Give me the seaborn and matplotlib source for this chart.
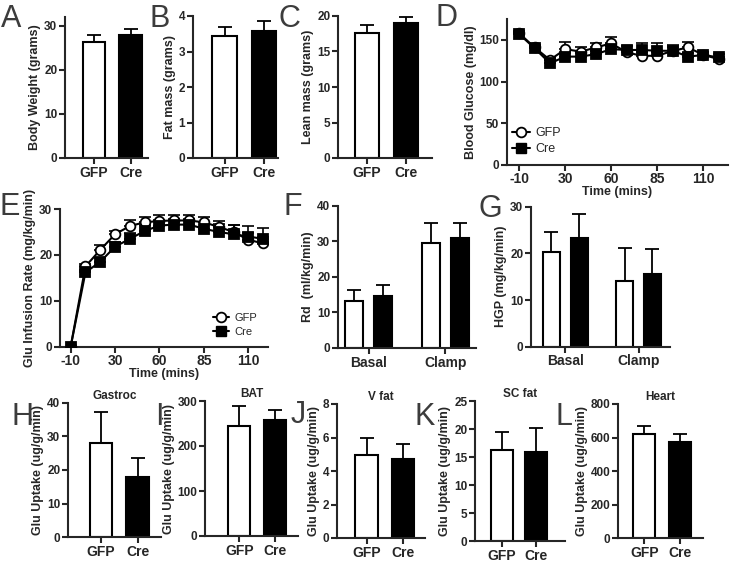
import numpy as np
import pandas as pd
import matplotlib
matplotlib.use('Agg')
import matplotlib.pyplot as plt
import seaborn as sns
from matplotlib.lines import Line2D

# ---- data ----
groups = ['GFP', 'Cre']
body_weight = [26.3, 27.9]
body_weight_err = [1.6, 1.3]
fat_mass = [3.45, 3.57]
fat_mass_err = [0.25, 0.28]
lean_mass = [17.6, 19.0]
lean_mass_err = [1.1, 0.9]

time_idx = [0, 1, 2, 3, 4, 5, 6, 7, 8, 9, 10, 11, 12, 13]
time_tick_idx = [0, 3, 6, 9, 12]
time_labels = ['-10', '30', '60', '85', '110']

glucose_gfp = [158, 141, 126, 139, 136, 141, 146, 135, 131, 131, 137, 141, 132, 127]
glucose_gfp_err = [3, 3, 3, 9, 6, 5, 8, 3, 4, 4, 5, 7, 3, 3]
glucose_cre = [157, 140, 122, 130, 130, 133, 139, 138, 138, 137, 137, 130, 132, 129]
glucose_cre_err = [3, 3, 4, 4, 4, 4, 4, 5, 8, 9, 7, 4, 4, 4]

gir_gfp = [0, 17.5, 21.1, 24.5, 26.3, 27.1, 27.4, 27.5, 27.5, 27.1, 26.1, 25.0, 23.3, 22.5]
gir_gfp_err = [0, 0.5, 1.0, 0.8, 1.2, 1.2, 1.2, 1.2, 1.2, 1.2, 1.3, 1.5, 1.5, 1.5]
gir_cre = [0, 16.2, 18.5, 21.8, 23.5, 25.2, 26.4, 26.6, 26.6, 25.7, 25.0, 24.5, 24.0, 23.5]
gir_cre_err = [0, 0.5, 0.8, 1.0, 1.2, 1.3, 1.3, 1.3, 1.3, 1.5, 1.8, 2.0, 2.3, 2.3]

conditions = ['Basal', 'Clamp']
rd_gfp = [13.2, 29.6]
rd_gfp_err = [3.2, 5.5]
rd_cre = [14.6, 30.8]
rd_cre_err = [3.1, 4.4]
hgp_gfp = [20.4, 14.1]
hgp_gfp_err = [4.1, 7.1]
hgp_cre = [23.2, 15.6]
hgp_cre_err = [5.2, 5.3]

gastroc = [27.9, 18.0]
gastroc_err = [9.4, 5.5]
bat = [244, 258]
bat_err = [45, 22]
vfat = [4.96, 4.73]
vfat_err = [1.0, 0.87]
scfat = [16.3, 15.9]
scfat_err = [3.2, 4.2]
heart = [623, 571]
heart_err = [47, 48]

# ---- style ----
sns.set_style('ticks')
plt.rcParams['font.family'] = ['Liberation Sans', 'DejaVu Sans']
plt.rcParams['font.weight'] = 'bold'
plt.rcParams['axes.labelweight'] = 'bold'
plt.rcParams['axes.linewidth'] = 1.5
narrow = ['Liberation Sans Narrow', 'Liberation Sans', 'DejaVu Sans']

W, H = 731, 562
fig = plt.figure(figsize=(W / 100, H / 100), dpi=100)


def add_ax(x0, x1, ytop, ybot):
    return fig.add_axes([x0 / W, 1 - ybot / H, (x1 - x0) / W, (ybot - ytop) / H])


def style(ax, ylim, yticks, ylabel, xlim):
    sns.despine(ax=ax)
    ax.set_ylim(*ylim)
    ax.set_yticks(yticks)
    ax.set_xlim(*xlim)
    ax.set_ylabel(ylabel, fontsize=9, labelpad=2)
    ax.set_xlabel('')
    ax.tick_params(axis='both', direction='out', length=4, width=1.5, pad=1.5)
    ax.tick_params(axis='y', labelsize=8.5)
    ax.tick_params(axis='x', labelsize=10)
    for t in ax.get_yticklabels():
        t.set_fontfamily(narrow)


def two_bar(ax, vals, errs, ylim, yticks, ylabel, xlim, title=None):
    df = pd.DataFrame({'group': groups, 'value': vals})
    sns.barplot(data=df, x='group', y='value', hue='group', palette=['white', 'black'],
                edgecolor='black', linewidth=1.5, width=0.62, legend=False, ax=ax)
    xs = [p.get_x() + p.get_width() / 2 for p in ax.patches]
    ax.errorbar(xs, vals, yerr=[[0, 0], errs], fmt='none', ecolor='black',
                elinewidth=1.3, capsize=5, capthick=1.3)
    style(ax, ylim, yticks, ylabel, xlim)
    if title:
        ax.set_title(title, fontsize=8.5, fontweight='bold', pad=3)


def group_bar(ax, gfp, gfp_err, cre, cre_err, ylim, yticks, ylabel, xlim):
    df = pd.DataFrame({'cond': conditions * 2,
                       'group': ['GFP'] * 2 + ['Cre'] * 2,
                       'value': gfp + cre})
    sns.barplot(data=df, x='cond', y='value', hue='group', hue_order=groups,
                palette=['white', 'black'], edgecolor='black', linewidth=1.5,
                width=0.76, gap=0.38, legend=False, ax=ax)
    for cont, vals, errs in zip(ax.containers, [gfp, cre], [gfp_err, cre_err]):
        xs = [p.get_x() + p.get_width() / 2 for p in cont.patches]
        ax.errorbar(xs, vals, yerr=[[0, 0], errs], fmt='none', ecolor='black',
                    elinewidth=1.3, capsize=5, capthick=1.3)
    style(ax, ylim, yticks, ylabel, xlim)


def time_plot(ax, gfp, gfp_err, cre, cre_err, ylim, yticks, ylabel, xlim):
    df = pd.DataFrame({'t': time_idx * 2,
                       'group': ['GFP'] * len(time_idx) + ['Cre'] * len(time_idx),
                       'value': gfp + cre})
    ax.errorbar(time_idx, gfp, yerr=[[0] * len(gfp), gfp_err], fmt='none', ecolor='black',
                elinewidth=1.2, capsize=4, capthick=1.2)
    ax.errorbar(time_idx, cre, yerr=[[0] * len(cre), cre_err], fmt='none', ecolor='black',
                elinewidth=1.2, capsize=4, capthick=1.2)
    sns.lineplot(data=df, x='t', y='value', hue='group', hue_order=groups, style='group',
                 markers={'GFP': 'o', 'Cre': 's'}, dashes=False,
                 palette={'GFP': 'black', 'Cre': 'black'}, markersize=7,
                 linewidth=1.5, errorbar=None, legend=False, ax=ax)
    ax.lines[-2].set_markerfacecolor('white')
    ax.lines[-2].set_markeredgecolor('black')
    ax.lines[-1].set_markeredgecolor('black')
    for ln in ax.lines[-2:]:
        ln.set_markeredgewidth(1.3)
        ln.set_zorder(3)
    style(ax, ylim, yticks, ylabel, xlim)
    ax.set_xticks(time_tick_idx)
    ax.set_xticklabels(time_labels)
    ax.set_xlabel('Time (mins)', fontsize=9, labelpad=0)


def legend(ax, **kw):
    handles = [Line2D([], [], color='black', marker='o', markerfacecolor='white',
                      markeredgecolor='black', markersize=7, lw=1.5, mew=1.3),
               Line2D([], [], color='black', marker='s', markerfacecolor='black',
                      markersize=7, lw=1.5)]
    ax.legend(handles, groups, frameon=False, handlelength=1.4, handletextpad=0.5,
              labelspacing=0.35, prop={'weight': 'normal', 'size': kw.pop('size', 9)}, **kw)


# A, B, C
ax = add_ax(65, 148, 16.9, 158)
two_bar(ax, body_weight, body_weight_err, (0, 32), [0, 10, 20, 30], 'Body Weight (grams)', (-0.8, 1.48))
ax = add_ax(193, 278, 16, 158)
two_bar(ax, fat_mass, fat_mass_err, (0, 4), [0, 1, 2, 3, 4], 'Fat mass (grams)', (-0.8, 1.35))
ax = add_ax(338, 432, 16, 158)
two_bar(ax, lean_mass, lean_mass_err, (0, 20), [0, 5, 10, 15, 20], 'Lean mass (grams)', (-0.75, 1.67))

# D
ax = add_ax(507, 728, 19.2, 164.7)
time_plot(ax, glucose_gfp, glucose_gfp_err, glucose_cre, glucose_cre_err,
          (0, 175), [0, 50, 100, 150], 'Blood Glucose (mg/dl)', (-0.8, 13.6))
legend(ax, loc='lower left', bbox_to_anchor=(0.0, 0.03), borderaxespad=0)

# E
ax = add_ax(60, 268, 209, 346.7)
time_plot(ax, gir_gfp, gir_gfp_err, gir_cre, gir_cre_err,
          (0, 30), [0, 10, 20, 30], 'Glu Infusion Rate (mg/kg/min)', (-0.72, 13.33))
legend(ax, loc='lower right', bbox_to_anchor=(0.97, 0.04), borderaxespad=0, size=8)

# F, G
ax = add_ax(338, 476, 205.7, 348)
group_bar(ax, rd_gfp, rd_gfp_err, rd_cre, rd_cre_err, (0, 40), [0, 10, 20, 30, 40],
          'Rd  (ml/kg/min)', (-0.40, 1.40))
ax = add_ax(531, 670, 206.7, 346.7)
group_bar(ax, hgp_gfp, hgp_gfp_err, hgp_cre, hgp_cre_err, (0, 30), [0, 10, 20, 30],
          'HGP (mg/kg/min)', (-0.47, 1.43))

# H - L
uptake = 'Glu Uptake (ug/g/min)'
ax = add_ax(68, 161, 402.7, 537.3)
two_bar(ax, gastroc, gastroc_err, (0, 40), [0, 10, 20, 30, 40], uptake, (-0.9, 1.64), 'Gastroc')
ax = add_ax(205, 298, 401, 536)
two_bar(ax, bat, bat_err, (0, 300), [0, 100, 200, 300], uptake, (-0.97, 1.65), 'BAT')
ax = add_ax(337, 425, 404, 538)
two_bar(ax, vfat, vfat_err, (0, 8), [0, 2, 4, 6, 8], uptake, (-0.81, 1.6), 'V fat')
ax = add_ax(475, 565, 401, 541)
two_bar(ax, scfat, scfat_err, (0, 25), [0, 5, 10, 15, 20, 25], uptake, (-0.79, 1.85), 'SC fat')
ax = add_ax(618, 703, 404, 538.3)
two_bar(ax, heart, heart_err, (0, 800), [0, 200, 400, 600, 800], uptake, (-0.74, 1.65), 'Heart')

# panel letters
letters = [('A', 1, 27), ('B', 150, 27), ('C', 278, 27), ('D', 435, 26),
           ('E', 0, 215), ('F', 283, 215), ('G', 478, 217),
           ('H', 11, 425), ('I', 155, 425), ('J', 291, 423), ('K', 415, 425), ('L', 555, 425)]
for txt, px, py in letters:
    fig.text(px / W, 1 - py / H, txt, fontsize=22, fontweight='normal', color='#3c3c3c',
             ha='left', va='baseline')

fig.savefig('out.png', dpi=100)
